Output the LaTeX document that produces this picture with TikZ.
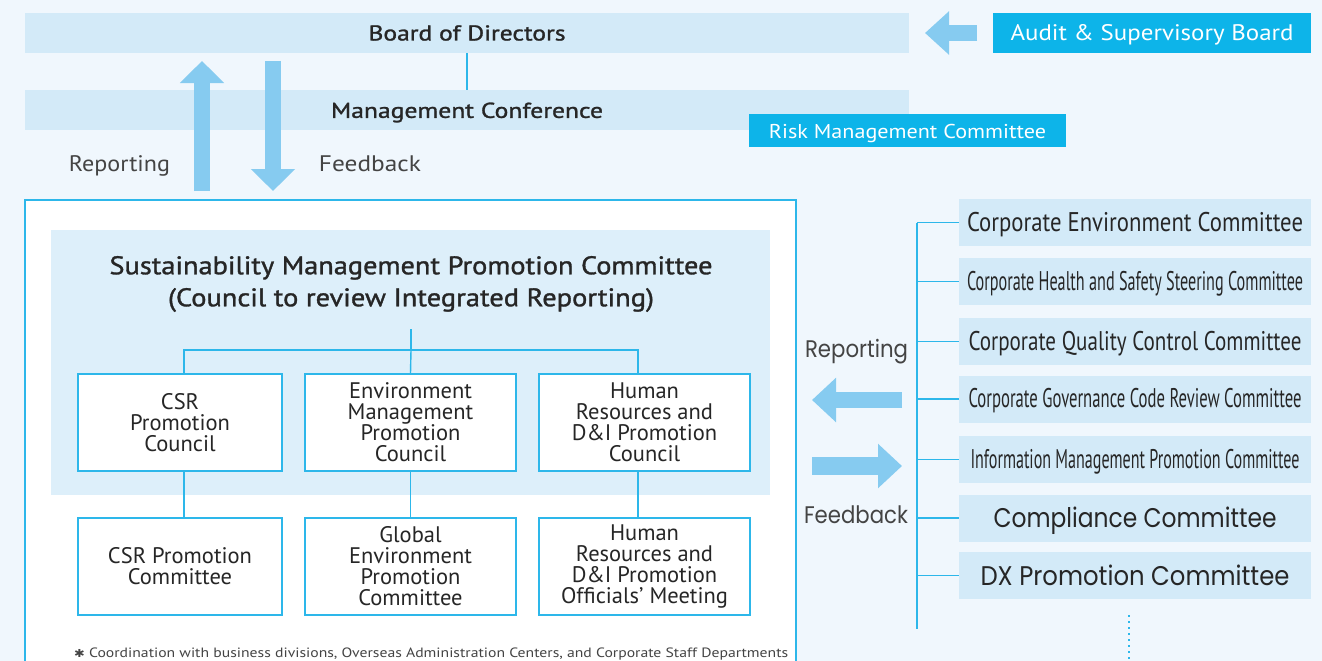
\documentclass[tikz,border=0pt]{standalone}
\usepackage{fontspec}
\usepackage{graphicx}
\setmainfont{PT Sans}
\newfontfamily\geo{Poppins}
\newfontfamily\medfont[FakeBold=1.2]{PT Sans}
\newfontfamily\dejavu{DejaVu Sans}
\usetikzlibrary{arrows.meta}
\definecolor{bgc}{HTML}{F0F7FD}
\definecolor{barc}{HTML}{D3EAF8}
\definecolor{panelc}{HTML}{DDEFFA}
\definecolor{cyanc}{HTML}{0DB4E9}
\definecolor{linec}{HTML}{2DB7EA}
\definecolor{arrc}{HTML}{86CBF0}
\definecolor{txt}{HTML}{262626}
\definecolor{greytxt}{HTML}{444444}
\newcommand\fitw[2]{\resizebox{#1}{\height}{#2}}
\newcommand\dn[2]{\raisebox{-#1}[\height][\depth]{#2}}
\tikzset{
  bar/.style={fill=barc, minimum width=884pt, minimum height=40pt, inner sep=0pt, text=txt},
  cyanbox/.style={fill=cyanc, inner sep=0pt, text=white},
  unitbox/.style={draw=linec, line width=1.5pt, fill=white, inner sep=0pt, minimum height=97pt, text=txt, align=center, font=\fontsize{22.5}{21}\selectfont},
  rbox/.style={fill=barc, minimum width=352pt, minimum height=47pt, inner sep=0pt, text=txt},
  conn/.style={draw=linec, line width=1.4pt},
  bigarrow/.style={draw=arrc, line width=16pt, -{Triangle[length=22pt,width=43pt]}},
  lbl/.style={inner sep=0pt, text=greytxt},
}
\begin{document}
\begin{tikzpicture}[x=1pt,y=-1pt]
\useasboundingbox (0,0) rectangle (1322,661);
\fill[bgc] (0,0) rectangle (1322,661);

% top bars
\node[bar, font=\medfont\fontsize{21.5}{24}\selectfont] (board) at (467,33) {\fitw{197pt}{Board of Directors}};
\node[bar, font=\medfont\fontsize{21.5}{24}\selectfont] (mgmt) at (467,110) {\dn{2.5pt}{\fitw{272pt}{Management Conference}}};
\node[cyanbox, minimum width=318pt, minimum height=40pt, font=\fontsize{22.5}{24}\selectfont] (audit) at (1152,33) {\dn{2pt}{\fitw{283pt}{Audit \& Supervisory Board}}};
\node[cyanbox, minimum width=317pt, minimum height=33pt, font=\fontsize{20}{22}\selectfont] (risk) at (907.5,130.5) {\dn{2.5pt}{\fitw{277pt}{Risk Management Committee}}};
\draw[conn] (board.south) -- (mgmt.north);
\coordinate (aud1) at (977,33);
\coordinate (aud2) at (925,33);
\draw[draw=arrc, line width=16pt, -{Triangle[length=24pt,width=42pt]}] (aud1) -- (aud2);

% main white box
\draw[draw=linec, line width=1.5pt, fill=white] (25,200) rectangle (796,720);
\node[draw=none, fill=panelc, minimum width=719pt, minimum height=265pt, inner sep=0pt] (panel) at (410.5,362.5) {};
\coordinate (up1) at (202,191);
\coordinate (up2) at (202,61);
\coordinate (dn1) at (273,61);
\coordinate (dn2) at (273,191);
\draw[bigarrow] (up1) -- (up2);
\draw[bigarrow] (dn1) -- (dn2);
\node[lbl, font=\fontsize{22.5}{24}\selectfont] (rep1) at (119.5,166) {\fitw{101pt}{Reporting}};
\node[lbl, font=\fontsize{22.5}{24}\selectfont] (fb1) at (370,164) {\fitw{102pt}{Feedback}};

\node[inner sep=0pt, text=txt, align=center, font=\medfont\fontsize{25.5}{32}\selectfont] (title) at (411,284)
  {\fitw{603pt}{Sustainability Management Promotion Committee}\\\fitw{486pt}{(Council to review Integrated Reporting)}};

% row 1
\node[unitbox, minimum width=204pt] (csr1) at (180,422.5) {CSR\\Promotion\\Council};
\node[unitbox, minimum width=211pt] (env1) at (410.5,422.5) {Environment\\Management\\Promotion\\Council};
\node[unitbox, minimum width=211pt] (hr1) at (644.5,422.5) {Human\\Resources and\\D\&I Promotion\\Council};
% row 2
\node[unitbox, minimum width=204pt] (csr2) at (180,566.5) {CSR Promotion\\Committee};
\node[unitbox, minimum width=211pt] (env2) at (410.5,566.5) {Global\\Environment\\Promotion\\Committee};
\node[unitbox, minimum width=211pt] (hr2) at (644.5,566.5) {Human\\Resources and\\D\&I Promotion\\Officials' Meeting};

\coordinate (treetop) at (411,329);
\coordinate (treejoin) at (411,350);
\draw[conn] (treetop) -- (treejoin);
\draw[conn] ([xshift=4pt]csr1.north) |- (treejoin) -| ([xshift=-6.5pt]hr1.north);
\draw[conn] (treejoin) -- (env1.north);
\draw[conn] ([xshift=4pt]csr1.south) -- ([xshift=4pt]csr2.north);
\draw[conn] (env1.south) -- (env2.north);
\draw[conn] ([xshift=-6.5pt]hr1.south) -- ([xshift=-6.5pt]hr2.north);

\node[anchor=west, inner sep=0pt, text=greytxt, font=\fontsize{13.5}{15}\selectfont] (foot) at (74,654)
  {\fitw{714pt}{{\dejavu\bfseries\fontsize{11}{12}\selectfont ✱} Coordination with business divisions, Overseas Administration Centers, and Corporate Staff Departments}};

% right side committees
\node[rbox, font=\fontsize{27}{30}\selectfont] (c1) at (1135,222.5) {\dn{2pt}{\fitw{336pt}{Corporate Environment Committee}}};
\node[rbox, font=\fontsize{27}{30}\selectfont] (c2) at (1135,281.5) {\dn{2pt}{\fitw{336pt}{Corporate Health and Safety Steering Committee}}};
\node[rbox, font=\fontsize{27}{30}\selectfont] (c3) at (1135,341.5) {\dn{2pt}{\fitw{333pt}{Corporate Quality Control Committee}}};
\node[rbox, font=\fontsize{27}{30}\selectfont] (c4) at (1135,399) {\dn{2pt}{\fitw{333pt}{Corporate Governance Code Review Committee}}};
\node[rbox, font=\fontsize{27}{30}\selectfont] (c5) at (1135,459.5) {\dn{2pt}{\fitw{329pt}{Information Management Promotion Committee}}};
\node[rbox, font=\geo\fontsize{27}{30}\selectfont] (c6) at (1135,518) {\dn{3pt}{\fitw{283pt}{Compliance Committee}}};
\node[rbox, font=\geo\fontsize{27}{30}\selectfont] (c7) at (1135,575.5) {\fitw{309pt}{DX Promotion Committee}};

\coordinate (trunktop) at (917,222.5);
\coordinate (trunkbot) at (917,629);
\draw[conn] (trunktop) -- (trunkbot);
\foreach \c in {c1,c2,c3,c4,c5,c6,c7} {\draw[conn] (\c.west -| trunktop) -- (\c.west);}
\coordinate (dots1) at (1129,615);
\coordinate (dots2) at (1129,659);
\draw[draw=linec, line width=2.2pt, dash pattern=on 2pt off 4pt] (dots1) -- (dots2);

\node[lbl, font=\geo\fontsize{24}{26}\selectfont] (rep2) at (856.5,352) {\fitw{103pt}{Reporting}};
\node[lbl, font=\geo\fontsize{24}{26}\selectfont] (fb2) at (856,515) {\fitw{104pt}{Feedback}};
\coordinate (la1) at (902,400);
\coordinate (la2) at (812,400);
\coordinate (ra1) at (812,466);
\coordinate (ra2) at (902,466);
\draw[draw=arrc, line width=16pt, -{Triangle[length=24pt,width=43pt]}] (la1) -- (la2);
\draw[draw=arrc, line width=18pt, -{Triangle[length=24pt,width=43pt]}] (ra1) -- (ra2);
\end{tikzpicture}
\end{document}
